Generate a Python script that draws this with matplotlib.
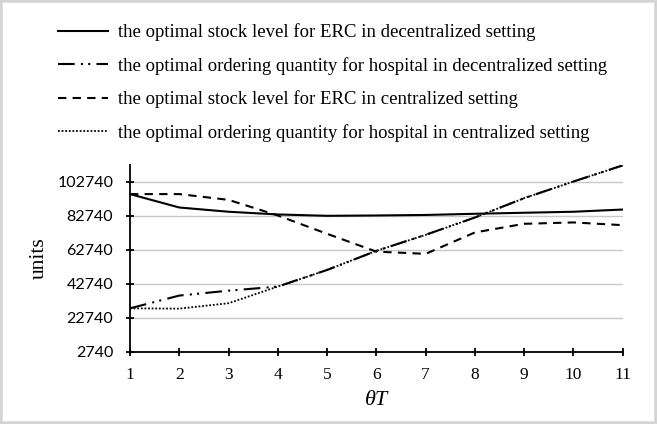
import matplotlib
matplotlib.use("Agg")
import matplotlib.pyplot as plt
from matplotlib.patches import Rectangle

theta_T = [1, 2, 3, 4, 5, 6, 7, 8, 9, 10, 11]
erc_decentralized = [95600, 87700, 85200, 83600, 82800, 83000, 83300, 84000, 84600, 85200, 86500]
hospital_decentralized = [28300, 35800, 38700, 41100, 50900, 62150, 71600, 81800, 93200, 103000, 112500]
erc_centralized = [95600, 95600, 92200, 83000, 72200, 61700, 60400, 73000, 78100, 78900, 77300]
hospital_centralized = [28300, 28100, 31300, 41100, 50900, 62150, 71600, 81800, 93200, 103000, 112500]
y_ticks = [2740, 22740, 42740, 62740, 82740, 102740]
labels = [
    "the optimal stock level for ERC in decentralized setting",
    "the optimal ordering quantity for hospital in decentralized setting",
    "the optimal stock level for ERC in centralized setting",
    "the optimal ordering quantity for hospital in centralized setting",
]

fig = plt.figure(figsize=(6.57, 4.24), dpi=100)
W, H = 657, 424
ax = fig.add_axes([130 / W, 1 - 351.7 / H, (622.7 - 130) / W, (351.7 - 165) / H])

serif = ["Liberation Serif", "DejaVu Serif"]

l1, = ax.plot(theta_T, erc_decentralized, color="black", lw=1.5, ls="-")
l2, = ax.plot(theta_T, hospital_decentralized, color="black", lw=1.5,
              ls=(0, (8, 3, 1, 2.5, 1, 3)))
l3, = ax.plot(theta_T, erc_centralized, color="black", lw=1.5, ls=(0, (4, 3)))
l4, = ax.plot(theta_T, hospital_centralized, color="black", lw=1.3, ls=(0, (1, 1)))

ax.set_xlim(1, 11)
ax.set_ylim(2740, 112740)
ax.set_xticks(theta_T)
ax.set_yticks(y_ticks)
ax.set_xticklabels([str(v) for v in theta_T], fontfamily=serif, fontsize=12.5)
ax.set_yticklabels([str(v) for v in y_ticks], fontfamily="Lato", fontsize=11.5,
                   color="#222222")
ax.grid(axis="y", color="#c8c8c8", lw=1)
ax.set_axisbelow(True)
for s in ["top", "right"]:
    ax.spines[s].set_visible(False)
for s in ["left", "bottom"]:
    ax.spines[s].set_linewidth(1.3)
ax.tick_params(axis="both", direction="inout", length=6, width=1.3, colors="black")
ax.tick_params(axis="x", pad=8)
ax.tick_params(axis="y", pad=9)

ax.set_xlabel("\u03b8T", fontsize=16, labelpad=6, fontfamily=serif, fontstyle="italic")
ax.set_ylabel("units", fontfamily=serif, fontsize=15.5, labelpad=6)

fig.legend([l1, l2, l3, l4], labels, loc="upper left",
           bbox_to_anchor=(50 / W, 1 - 16 / H), frameon=False,
           prop={"family": serif, "size": 13.5}, handlelength=2.7,
           handletextpad=0.5, labelspacing=0.83, borderaxespad=0)

fig.patches.append(Rectangle((0, 0), 1, 1, transform=fig.transFigure,
                             fill=False, edgecolor="#d4d4d4", lw=4))

fig.savefig("out.png", dpi=100)
